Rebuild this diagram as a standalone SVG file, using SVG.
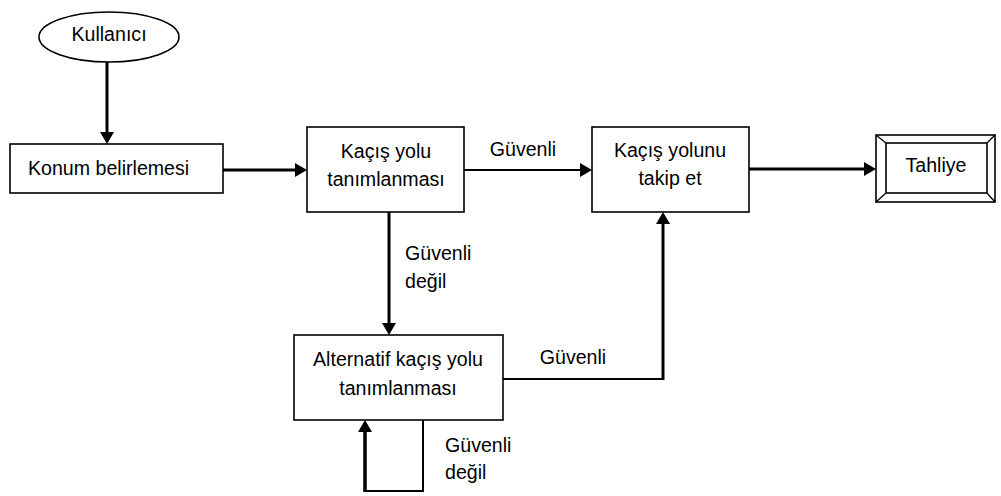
<svg xmlns="http://www.w3.org/2000/svg" width="1001" height="496" viewBox="0 0 1001 496">
<style>
.box{fill:#fff;stroke:#000;stroke-width:1.6}
.t{font-family:"Liberation Sans",Arial,sans-serif;font-size:19.6px;fill:#000}
.c{text-anchor:middle}
.ln{fill:none;stroke:#000;stroke-linejoin:miter}
.thick{stroke-width:3}
.thin{stroke-width:2}
</style>
<defs>
<marker id="ah" viewBox="0 0 12 14" refX="0" refY="7" markerWidth="12" markerHeight="14" markerUnits="userSpaceOnUse" orient="auto">
<path d="M0,0 L12,7 L0,14 Z" fill="#000"/>
</marker>
</defs>
<rect width="1001" height="496" fill="#fff"/>
<g id="connectors">
<line class="ln thick" x1="107" y1="62" x2="107" y2="132" marker-end="url(#ah)"/>
<line class="ln thick" x1="223" y1="170" x2="295" y2="170" marker-end="url(#ah)"/>
<line class="ln thin" x1="464" y1="170" x2="580" y2="170" marker-end="url(#ah)"/>
<line class="ln thick" x1="749" y1="169" x2="864" y2="169" marker-end="url(#ah)"/>
<line class="ln thick" x1="389" y1="212" x2="389" y2="323" marker-end="url(#ah)"/>
<polyline class="ln thin" points="503,379 663,379 663,224"/>
<line class="ln thick" x1="663" y1="380" x2="663" y2="224" marker-end="url(#ah)"/>
<polyline class="ln thin" points="423,420 423,491 365,491"/>
<line class="ln" stroke-width="3.5" x1="365" y1="492" x2="365" y2="432" marker-end="url(#ah)"/>
<text class="t c" x="523" y="156">Güvenli</text>
<text class="t" x="405" y="260">Güvenli</text>
<text class="t" x="405" y="288">değil</text>
<text class="t c" x="573" y="364">Güvenli</text>
<text class="t" x="445" y="452">Güvenli</text>
<text class="t" x="445" y="479">değil</text>
</g>
<g id="kullanici">
<ellipse class="box" cx="109" cy="37" rx="70" ry="25"/>
<text class="t c" x="109" y="41">Kullanıcı</text>
</g>
<g id="konum">
<rect class="box" x="10" y="144" width="213" height="49"/>
<text class="t" x="28" y="175">Konum belirlemesi</text>
</g>
<g id="kacis">
<rect class="box" x="307" y="127" width="157" height="85"/>
<text class="t c" x="386" y="158">Kaçış yolu</text>
<text class="t c" x="386" y="186">tanımlanması</text>
</g>
<g id="takip">
<rect class="box" x="592" y="127" width="157" height="85"/>
<text class="t c" x="670" y="157">Kaçış yolunu</text>
<text class="t c" x="670" y="185">takip et</text>
</g>
<g id="tahliye">
<rect class="box" x="876" y="135" width="119" height="67"/>
<rect class="box" x="886" y="143" width="101" height="50"/>
<path d="M876,135 L886,143 M995,135 L987,143 M876,202 L886,193 M995,202 L987,193" stroke="#000" stroke-width="1.3" fill="none"/>
<text class="t c" x="936" y="172">Tahliye</text>
</g>
<g id="alternatif">
<rect class="box" x="294" y="335" width="209" height="85"/>
<text class="t c" x="398" y="366">Alternatif kaçış yolu</text>
<text class="t c" x="398" y="395">tanımlanması</text>
</g>
</svg>
